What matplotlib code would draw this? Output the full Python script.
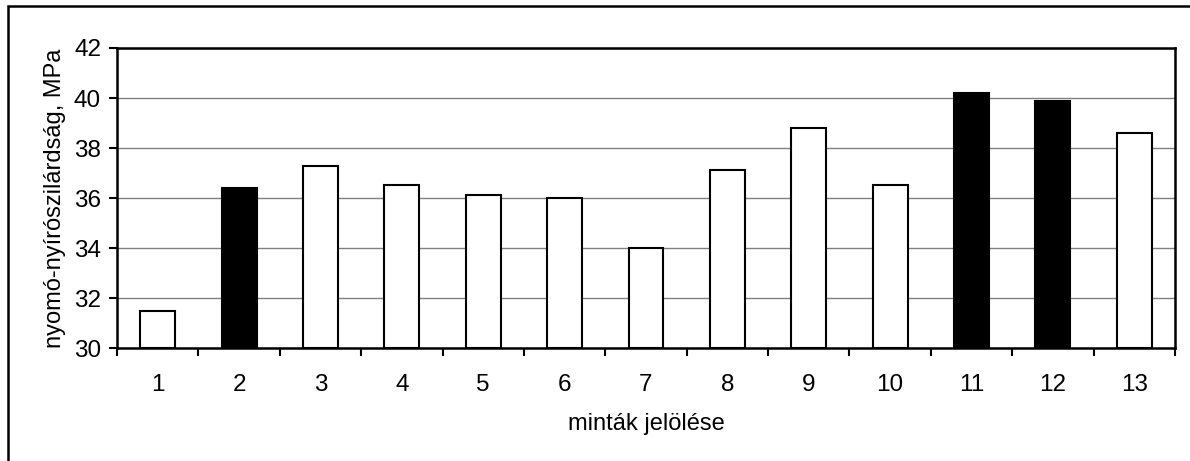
import matplotlib
matplotlib.use("Agg")
import matplotlib.pyplot as plt
from matplotlib.lines import Line2D

plt.rcParams['font.family'] = ['Liberation Sans', 'DejaVu Sans']

# data
samples = [str(i) for i in range(1, 14)]
strength = [31.5, 36.4, 37.3, 36.5, 36.1, 36.0, 34.0, 37.1, 38.8, 36.5, 40.2, 39.9, 38.6]
highlighted = ['2', '11', '12']

fig = plt.figure(figsize=(11.9, 4.61), dpi=100)
ax = fig.add_axes([117 / 1190, 1 - 348 / 461, (1175 - 117) / 1190, 300 / 461])

# outer chart frame: only the left and top edges fall inside the picture
fx, fy = 8 / 1190, 1 - 6.5 / 461
fig.add_artist(Line2D([fx, fx, 1.0], [0.0, fy, fy], transform=fig.transFigure,
                      color='black', linewidth=1.8, solid_joinstyle='miter'))

x = list(range(len(samples)))
colors = ['black' if s in highlighted else 'white' for s in samples]
ax.bar(x, [v - 30 for v in strength], bottom=30, width=0.43, color=colors,
       edgecolor='black', linewidth=1.5, zorder=3)

ax.set_xlim(-0.5, len(samples) - 0.5)
ax.set_ylim(30, 42)
ax.set_yticks(range(30, 43, 2))
ax.yaxis.grid(True, color='#808080', linewidth=1.0, zorder=0)

# category ticks between bars, labels centred under bars
ax.set_xticks([i - 0.5 for i in range(len(samples) + 1)])
ax.set_xticklabels([])
ax.set_xticks(x, minor=True)
ax.set_xticklabels(samples, minor=True)
ax.tick_params(axis='x', which='minor', length=0, pad=19, labelsize=17.5)
ax.tick_params(axis='x', which='major', direction='out', length=6, width=1.5)
ax.tick_params(axis='y', direction='out', length=6, width=1.5, labelsize=17.5, pad=5.5)

for sp in ax.spines.values():
    sp.set_linewidth(1.8)
    sp.set_color('black')
    sp.set_zorder(4)

ax.set_xlabel('minták jelölése', fontsize=17, labelpad=12)
ax.set_ylabel('nyomó-nyírószilárdság, MPa', fontsize=17, labelpad=6)

fig.savefig('out.png', dpi=100)
